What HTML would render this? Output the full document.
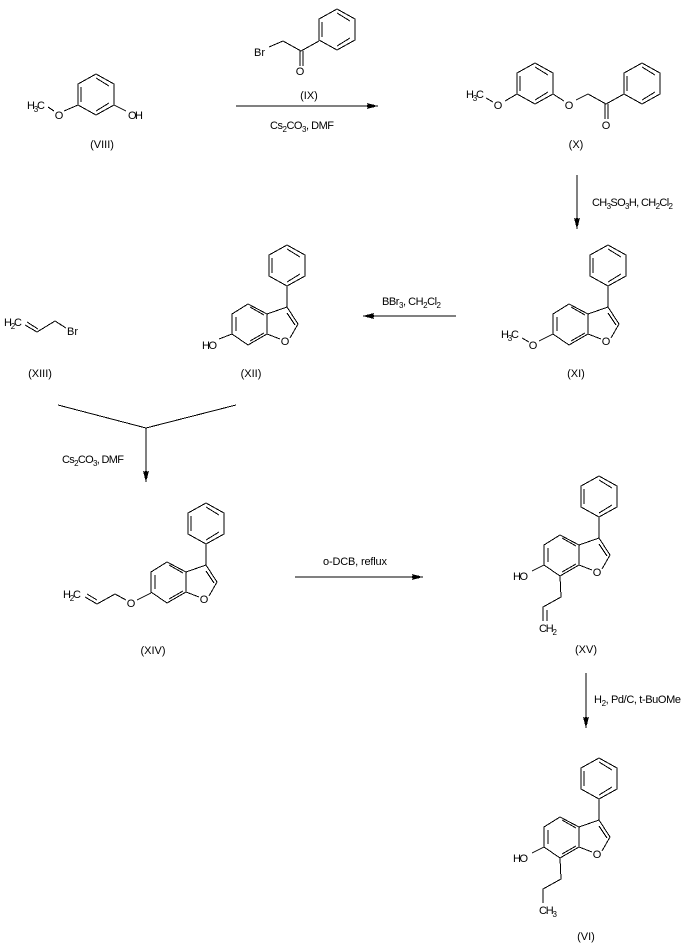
<!DOCTYPE html>
<html>
<head>
<meta charset="utf-8">
<style>
html,body{margin:0;padding:0;background:#fff;}
svg{display:block;}
text{font-family:"Liberation Sans",sans-serif;font-size:11px;fill:#000;}
.s{font-size:8px;}
.c{text-anchor:middle;}
line,polyline{stroke:#000;stroke-width:1;fill:none;shape-rendering:crispEdges;}
polygon{fill:#000;stroke:none;shape-rendering:crispEdges;}
</style>
</head>
<body>
<svg width="682" height="943" viewBox="0 0 682 943" xmlns="http://www.w3.org/2000/svg">
<defs>
<g id="ph">
<polyline points="0,0 18,10 18,31 0,41 -18,31 -18,10 0,0"/>
<line x1="-15" y1="13" x2="-15" y2="28"/>
<line x1="0" y1="4" x2="13" y2="12"/>
<line x1="0" y1="37" x2="13" y2="29"/>
</g>
<g id="bf">
<use href="#ph" x="608" y="245"/>
<line x1="608" y1="286" x2="608" y2="307"/>
<polyline points="608,307 588,314 569,304 553,314 553,334 569,345 588,334 588,314"/>
<line x1="608" y1="307" x2="619" y2="324"/>
<line x1="608" y1="313" x2="616" y2="325"/>
<line x1="619" y1="324" x2="611" y2="338"/>
<line x1="588" y1="334" x2="601" y2="339"/>
<line x1="571" y1="307" x2="585" y2="315"/>
<line x1="557" y1="317" x2="557" y2="331"/>
<line x1="571" y1="341" x2="585" y2="333"/>
<text class="c" x="606" y="345">O</text>
</g>
</defs>

<!-- VIII -->
<use href="#ph" x="96" y="74"/>
<line x1="64" y1="111" x2="78" y2="105"/>
<line x1="48" y1="107" x2="54" y2="111"/>
<line x1="114" y1="105" x2="126" y2="111"/>
<text x="27" y="109" textLength="18">H<tspan class="s" dy="3">3</tspan><tspan dy="-3">C</tspan></text>
<text class="c" x="59" y="119">O</text>
<text x="128" y="119" textLength="15">OH</text>
<text class="c" x="102" y="148">(VIII)</text>

<!-- IX -->
<use href="#ph" x="337" y="9"/>
<polyline points="269,47 283,41 301,51 319,41"/>
<line x1="300" y1="51" x2="300" y2="66"/>
<line x1="303" y1="51" x2="303" y2="66"/>
<text x="254" y="56" textLength="11">Br</text>
<text class="c" x="300" y="75">O</text>
<text class="c" x="309" y="99">(IX)</text>

<!-- arrow 1 -->
<line x1="236" y1="106" x2="378" y2="106"/>
<polygon points="378,106 367,103 369,106 367,109"/>
<line x1="367" y1="105" x2="374" y2="105"/>
<line x1="367" y1="107" x2="374" y2="107"/>
<text x="270" y="129" textLength="64">Cs<tspan class="s" dy="3">2</tspan><tspan dy="-3">CO</tspan><tspan class="s" dy="3">3</tspan><tspan dy="-3">, DMF</tspan></text>

<!-- X -->
<use href="#ph" x="535" y="63"/>
<use href="#ph" x="642" y="63"/>
<line x1="505" y1="101" x2="517" y2="94"/>
<line x1="486" y1="98" x2="493" y2="102"/>
<line x1="553" y1="94" x2="564" y2="101"/>
<polyline points="576,100 588,94 606,104 624,94"/>
<line x1="605" y1="104" x2="605" y2="119"/>
<line x1="608" y1="104" x2="608" y2="119"/>
<text x="466" y="98" textLength="18">H<tspan class="s" dy="3">3</tspan><tspan dy="-3">C</tspan></text>
<text class="c" x="498" y="109">O</text>
<text class="c" x="569" y="109">O</text>
<text class="c" x="606" y="129">O</text>
<text class="c" x="576" y="148">(X)</text>

<!-- arrow 2 -->
<line x1="577" y1="175" x2="577" y2="229"/>
<polygon points="577,229 574,218 577,220 580,218"/>
<line x1="576" y1="218" x2="576" y2="225"/>
<line x1="578" y1="218" x2="578" y2="225"/>
<text x="592" y="206" textLength="81">CH<tspan class="s" dy="3">3</tspan><tspan dy="-3">SO</tspan><tspan class="s" dy="3">3</tspan><tspan dy="-3">H, CH</tspan><tspan class="s" dy="3">2</tspan><tspan dy="-3">Cl</tspan><tspan class="s" dy="3">2</tspan></text>

<!-- XI -->
<use href="#bf"/>
<line x1="539" y1="341" x2="553" y2="334"/>
<line x1="522" y1="338" x2="529" y2="342"/>
<text x="501" y="338" textLength="18">H<tspan class="s" dy="3">3</tspan><tspan dy="-3">C</tspan></text>
<text class="c" x="533" y="349">O</text>
<text class="c" x="576" y="377">(XI)</text>

<!-- arrow 3 -->
<line x1="363" y1="316" x2="456" y2="316"/>
<polygon points="363,316 374,313 372,316 374,319"/>
<line x1="367" y1="315" x2="374" y2="315"/>
<line x1="367" y1="317" x2="374" y2="317"/>
<text x="382" y="305" textLength="59">BBr<tspan class="s" dy="3">3</tspan><tspan dy="-3">, CH</tspan><tspan class="s" dy="3">2</tspan><tspan dy="-3">Cl</tspan><tspan class="s" dy="3">2</tspan></text>

<!-- XII -->
<use href="#bf" x="-321" y="0"/>
<line x1="219" y1="339" x2="232" y2="334"/>
<text x="202" y="349" textLength="15">HO</text>
<text class="c" x="251" y="377">(XII)</text>

<!-- XIII -->
<polyline points="25,325 37,332 55,321 66,328"/>
<line x1="27" y1="322" x2="38" y2="329"/>
<text x="4" y="326" textLength="18">H<tspan class="s" dy="3">2</tspan><tspan dy="-3">C</tspan></text>
<text x="67" y="335" textLength="11">Br</text>
<text class="c" x="40" y="377">(XIII)</text>

<!-- branch arrow -->
<polyline points="58,405 146,428 236,405"/>
<line x1="146" y1="428" x2="146" y2="482"/>
<polygon points="146,482 143,471 146,473 149,471"/>
<line x1="145" y1="471" x2="145" y2="478"/>
<line x1="147" y1="471" x2="147" y2="478"/>
<text x="62" y="463" textLength="62">Cs<tspan class="s" dy="3">2</tspan><tspan dy="-3">CO</tspan><tspan class="s" dy="3">3</tspan><tspan dy="-3">, DMF</tspan></text>

<!-- XIV -->
<use href="#bf" x="-402" y="258"/>
<polyline points="151,593 137,600"/>
<polyline points="126,600 115,594 97,604 85,597"/>
<line x1="97" y1="600" x2="87" y2="594"/>
<text x="63" y="598" textLength="18">H<tspan class="s" dy="3">2</tspan><tspan dy="-3">C</tspan></text>
<text class="c" x="131" y="607">O</text>
<text class="c" x="153" y="654">(XIV)</text>

<!-- arrow 4 -->
<line x1="295" y1="577" x2="423" y2="577"/>
<polygon points="423,577 412,574 414,577 412,580"/>
<line x1="412" y1="576" x2="419" y2="576"/>
<line x1="412" y1="578" x2="419" y2="578"/>
<text x="323" y="565" textLength="64">o-DCB, reflux</text>

<!-- XV -->
<use href="#bf" x="-9" y="231"/>
<line x1="532" y1="571" x2="544" y2="565"/>
<polyline points="560,576 561,597 543,607 543,621"/>
<line x1="547" y1="610" x2="547" y2="621"/>
<text x="513" y="580" textLength="15">HO</text>
<text x="539" y="632" textLength="18">CH<tspan class="s" dy="3">2</tspan></text>
<text class="c" x="586" y="653">(XV)</text>

<!-- arrow 5 -->
<line x1="586" y1="673" x2="586" y2="728"/>
<polygon points="586,728 583,717 586,719 589,717"/>
<line x1="585" y1="717" x2="585" y2="724"/>
<line x1="587" y1="717" x2="587" y2="724"/>
<text x="594" y="703" textLength="87">H<tspan class="s" dy="3">2</tspan><tspan dy="-3">, Pd/C, t-BuOMe</tspan></text>

<!-- VI -->
<use href="#bf" x="-9" y="513"/>
<line x1="532" y1="853" x2="544" y2="847"/>
<polyline points="560,858 561,879 543,889 543,903"/>
<text x="513" y="862" textLength="15">HO</text>
<text x="539" y="914" textLength="18">CH<tspan class="s" dy="3">3</tspan></text>
<text class="c" x="586" y="940">(VI)</text>
</svg>
</body>
</html>
